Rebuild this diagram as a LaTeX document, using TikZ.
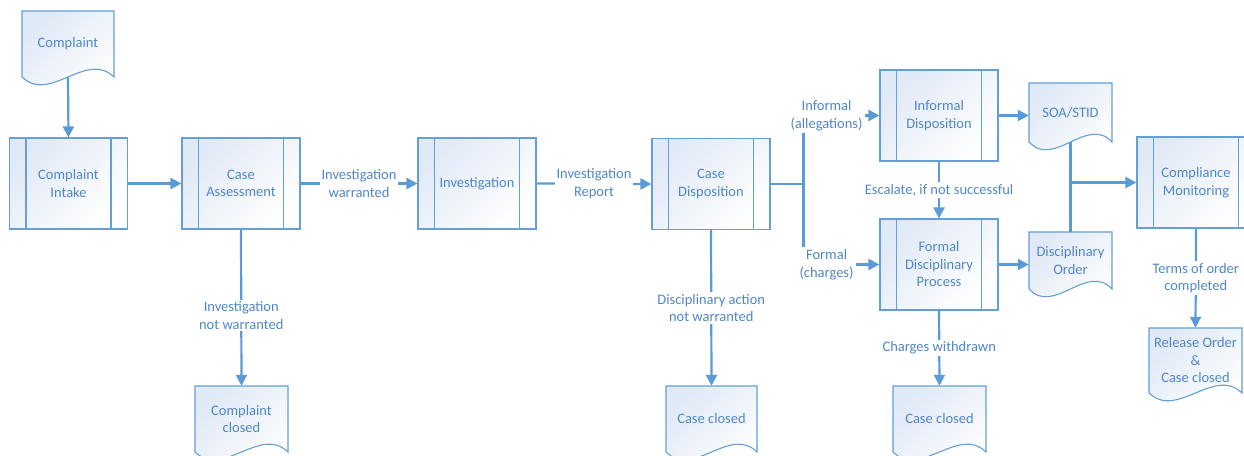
\documentclass[tikz,border=0pt]{standalone}
\usepackage{fontspec}
\setmainfont{Carlito}
\usetikzlibrary{arrows.meta,calc}

\definecolor{lineblue}{RGB}{91,155,213}
\definecolor{boxblue}{RGB}{100,160,215}
\definecolor{textblue}{RGB}{80,135,200}
\definecolor{shadeblue}{RGB}{224,233,246}

\tikzset{
  every node/.style={font=\fontsize{14.5}{17.5}\selectfont, text=textblue},
  outline/.style={draw=boxblue, line width=1.1pt},
  softfill/.style={top color=shadeblue, bottom color=white, shading angle=45},
  proc/.style={outline, softfill, minimum width=118pt, minimum height=91pt,
    align=center, inner sep=0pt,
    path picture={
      \draw[boxblue, line width=1.1pt]
        ([xshift=16.5pt]path picture bounding box.north west) --
        ([xshift=16.5pt]path picture bounding box.south west)
        ([xshift=-16.5pt]path picture bounding box.north east) --
        ([xshift=-16.5pt]path picture bounding box.south east);}},
  doctext/.style={align=center, inner sep=0pt},
  wire/.style={draw=lineblue, line width=2.2pt},
  conn/.style={wire, -{Triangle[length=11pt,width=11pt]}},
  lbl/.style={fill=white, align=center, inner sep=2pt},
}

% document symbol: #1 name, #2 left, #3 top, #4 right, #5 wave base, #6 text
\newcommand\wavedoc[6]{%
  \path[outline, softfill] (#2,#3) -- (#4,#3) -- (#4,#5)
    .. controls ({#2+0.7*(#4-#2)},{#5-27}) and ({#2+0.3*(#4-#2)},{#5+27}) .. (#2,#5) -- cycle;
  \node[doctext, minimum width={(#4-#2)*1pt}, minimum height={(#5-#3)*1pt}]
    (#1) at ({(#2+#4)/2},{(#3+#5)/2}) {#6};}

\begin{document}
\begin{tikzpicture}[x=1pt, y=-1pt]
\useasboundingbox (0,0) rectangle (1244,455);
\clip (0,0) rectangle (1244,455);

% process boxes
\node[proc] (ci)  at (68.5,183.5) {Complaint\\Intake};
\node[proc] (ca)  at (241,183.5)  {Case\\Assessment};
\node[proc] (inv) at (477,183.5)  {Investigation};
\node[proc] (cd)  at (711,184)    {Case\\Disposition};
\node[proc] (id)  at (939,115.5)  {Informal\\Disposition};
\node[proc] (fdp) at (939,264.5)  {Formal\\Disciplinary\\Process};
\node[proc] (cm)  at (1196,182.5) {Compliance\\Monitoring};

% documents
\wavedoc{comp}{22}{11}{114}{77}{Complaint}
\wavedoc{cc1}{195}{386}{288}{452}{Complaint\\closed}
\wavedoc{cc2}{666}{386}{757}{452}{Case closed}
\wavedoc{cc3}{893}{386}{986}{452}{Case closed}
\wavedoc{soa}{1029}{83}{1112}{142}{SOA/STID}
\wavedoc{dord}{1029}{232}{1112}{289}{Disciplinary\\Order}
\wavedoc{rel}{1149}{328}{1242}{393}{Release Order\\\&\\Case closed}

% main flow
\draw[conn] (comp.south) -- (ci.north);
\draw[conn] (ci.east) -- (ca.west);
\draw[conn] (ca.east) -- node[lbl] {Investigation\\warranted} (inv.west);
\draw[conn] (inv.east) -- node[lbl] {Investigation\\Report} (cd.west);
\draw[conn] (ca.south) -- node[lbl, pos=0.55] {Investigation\\not warranted} (cc1.north);
\draw[conn] (cd.south) -- node[lbl] {Disciplinary action\\not warranted} (cc2.north);

% disposition branches
\coordinate (j1) at ($(cd.east)+(33,0)$);
\draw[wire] (cd.east) -- (j1);
\draw[conn] (j1) |- node[lbl, pos=0.5, xshift=23pt] {Informal\\(allegations)} (id.west);
\draw[conn] (j1) |- node[lbl, pos=0.5, xshift=23pt] {Formal\\(charges)} (fdp.west);
\draw[conn] (id.south) -- node[lbl] {Escalate, if not successful} (fdp.north);
\draw[conn] (fdp.south) -- node[lbl] {Charges withdrawn} (cc3.north);
\draw[conn] (id.east) -- (id.east -| soa.west);
\draw[conn] (fdp.east) -- (fdp.east -| dord.west);

% orders into compliance monitoring
\coordinate (j2) at (soa.south |- cm.west);
\draw[wire] (soa.south) -- (dord.north);
\draw[conn] (j2) -- (cm.west);
\draw[conn] (cm.south) -- node[lbl] {Terms of order\\completed} (rel.north);
\end{tikzpicture}
\end{document}
